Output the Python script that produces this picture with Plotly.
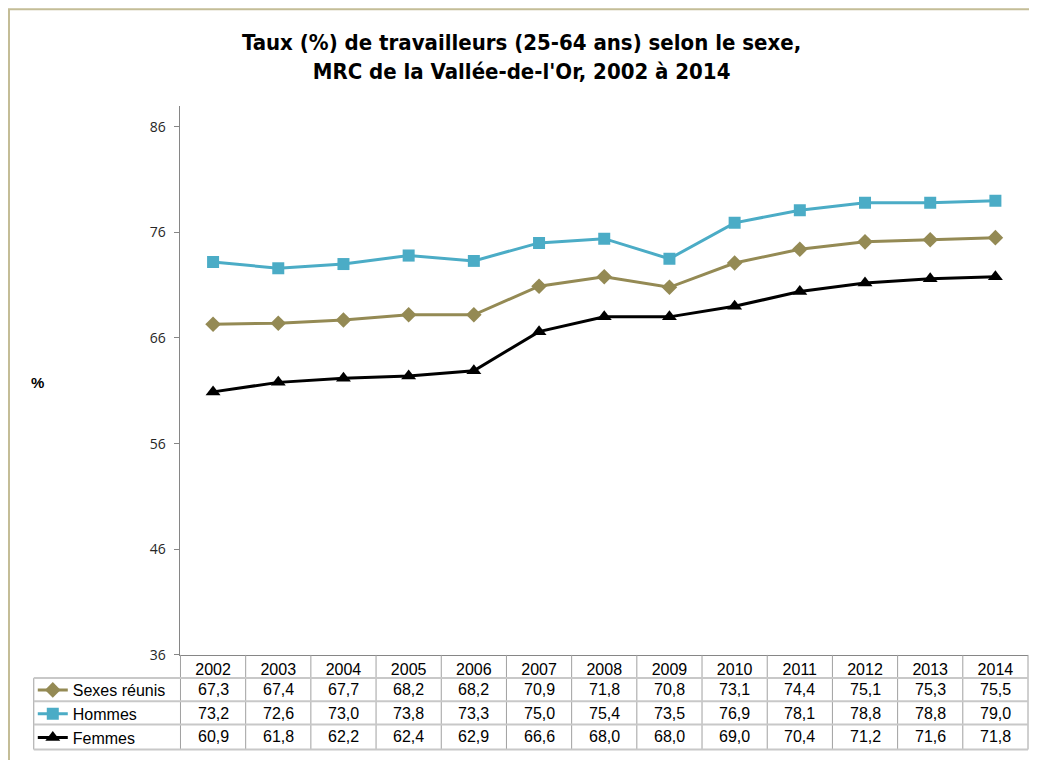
import plotly.graph_objects as go

years = ["2002", "2003", "2004", "2005", "2006", "2007", "2008",
         "2009", "2010", "2011", "2012", "2013", "2014"]
sexes_reunis = [67.3, 67.4, 67.7, 68.2, 68.2, 70.9, 71.8, 70.8, 73.1, 74.4, 75.1, 75.3, 75.5]
hommes = [73.2, 72.6, 73.0, 73.8, 73.3, 75.0, 75.4, 73.5, 76.9, 78.1, 78.8, 78.8, 79.0]
femmes = [60.9, 61.8, 62.2, 62.4, 62.9, 66.6, 68.0, 68.0, 69.0, 70.4, 71.2, 71.6, 71.8]

series_names = ["Sexes réunis", "Hommes", "Femmes"]
series_vals = [sexes_reunis, hommes, femmes]
series_colors = ["#948A54", "#4BACC6", "#000000"]
series_symbols = ["diamond", "square", "triangle-up"]
series_sizes = [12, 12, 13]

# page has a body margin, so the figure is a bit smaller than the window
W, H = 1021, 752
SX = 1020 / 1029
def fx(x):
    # reference pixel x -> paper
    return (x - 7) * SX / W
def fyr(r):
    # wanted picture y -> paper
    return 1 - ((r + 1.8) / 0.991 - 8) / H
def fy(y):
    # reference pixel y -> paper (table part squeezed a little)
    r = y if y <= 655 else 655 + (y - 655) * 0.93
    return fyr(r)

x0, x1 = fx(181), fx(1036)
idx = list(range(len(years)))
n = len(years)

fig = go.Figure()
for name, vals, col, sym, sz in zip(series_names, series_vals, series_colors, series_symbols, series_sizes):
    fig.add_trace(go.Scatter(
        x=idx, y=vals, name=name, legendgroup=name, mode="lines+markers",
        line=dict(color=col, width=3),
        marker=dict(symbol=sym, size=sz, color=col),
    ))

# table rows under the plot
row_y = [692, 718, 743]
ann = []
for vals, ry in zip(series_vals, row_y):
    for i, v in zip(idx, vals):
        ann.append(dict(x=i, xref="x", y=fy(ry), yref="paper", xanchor="center", yanchor="middle",
                        text=f"{v:.1f}".replace(".", ","), showarrow=False,
                        font=dict(family="Liberation Sans, Arial", size=16, color="#000000")))

ann.append(dict(x=fx(525), y=fy(55), xref="paper", yref="paper", xanchor="center", yanchor="middle",
                showarrow=False,
                text="<b>Taux (%) de travailleurs (25-64 ans) selon le sexe,<br>MRC de la Vallée-de-l'Or, 2002 à 2014</b>",
                font=dict(family="Liberation Sans Narrow, DejaVu Sans Condensed", size=22, color="#000000")))
ann.append(dict(x=fx(37), y=fy(382), xref="paper", yref="paper", xanchor="center", yanchor="middle",
                showarrow=False, text="<b>%</b>",
                font=dict(family="Liberation Sans, Arial", size=15, color="#000000")))

shapes = []
grid_v = "#A0A0A0"
grid_h = "#C8C8C8"
for k in range(n + 1):
    xp = x0 + k / n * (x1 - x0)
    shapes.append(dict(type="line", xref="paper", yref="paper", x0=xp, x1=xp, y0=fy(655), y1=fy(757),
                       line=dict(color=grid_v, width=1)))
shapes.append(dict(type="line", xref="paper", yref="paper", x0=fx(33), x1=fx(33), y0=fy(680), y1=fy(757),
                   line=dict(color=grid_v, width=1)))
for hy in [680, 705, 730, 757]:
    shapes.append(dict(type="line", xref="paper", yref="paper", x0=fx(33), x1=x1, y0=fy(hy), y1=fy(hy),
                       line=dict(color=grid_h, width=2)))
# chart border
shapes.append(dict(type="rect", xref="paper", yref="paper", x0=fx(8), x1=1.02, y0=-0.02, y1=1 - 1.2 / H,
                   line=dict(color="#C4BD97", width=2)))

fig.update_layout(
    width=W, height=H,
    margin=dict(l=0, r=0, t=0, b=0),
    paper_bgcolor="white", plot_bgcolor="white",
    annotations=ann, shapes=shapes,
    showlegend=True,
    legend=dict(x=fx(32), y=fyr(655 + 37 * 0.93 - 16.3), xanchor="left", yanchor="top", tracegroupgap=0,
                traceorder="normal", bgcolor="rgba(0,0,0,0)",
                font=dict(family="Liberation Sans, Arial", size=16, color="#000000")),
    xaxis=dict(domain=[x0, x1], range=[-0.5, n - 0.5], tickvals=idx, ticktext=years,
               showline=True, linecolor="#868686", linewidth=1, showgrid=False, zeroline=False,
               ticks="", tickfont=dict(family="Liberation Sans, Arial", size=16, color="#000000")),
    yaxis=dict(domain=[fy(655), fy(104)], range=[36, 88], tickvals=[36, 46, 56, 66, 76, 86],
               showline=True, linecolor="#868686", linewidth=1, showgrid=False, zeroline=False,
               ticks="outside", ticklen=5, tickcolor="#868686", ticklabelstandoff=6,
               tickfont=dict(family="Open Sans", size=14, color="#262626")),
)

fig.write_html("out.html")
